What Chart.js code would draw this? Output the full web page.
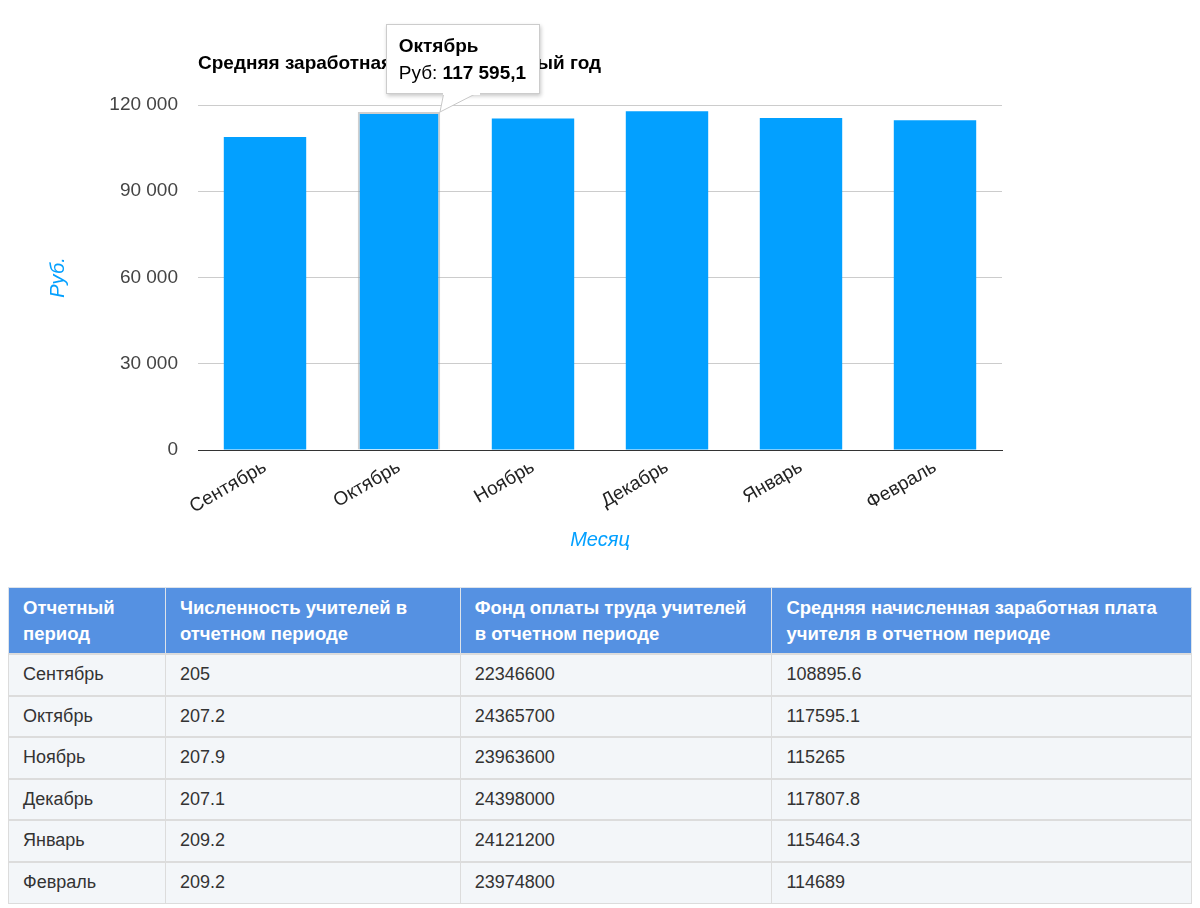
<!DOCTYPE html>
<html lang="ru">
<head>
<meta charset="utf-8">
<script src="https://cdn.jsdelivr.net/npm/chart.js@4.4.1/dist/chart.umd.min.js"></script>
<style>
  html, body { margin: 0; padding: 0; background: #fff; font-family: "Liberation Sans", Arial, Helvetica, sans-serif; }
  #wrap { position: relative; width: 1200px; height: 565px; }
  #tip { position: absolute; display: none; background: #fff; border: 1px solid #cccccc;
         box-shadow: 1px 2px 4px rgba(0,0,0,0.22); padding: 7px 13px 7px 12px; font-size: 19px; color: #000; line-height: 27px; white-space: nowrap; }
  #tip .t { font-weight: bold; }
  #tipTail { position: absolute; display: none; pointer-events: none; }
  table { position: absolute; left: 8px; top: 587px; width: 1184px; border-collapse: collapse; font-size: 18px; color: #333; }
  th { background: #5591e2; color: #fff; font-weight: bold; font-size: 18.5px; text-align: left; vertical-align: top; padding: 7px 14px 6px 14px; line-height: 26px; border: 1px solid #dde3ea; height: 52px; }
  td { background: #f3f6f9; padding: 0 14px; border: 1px solid #dcdcdc; border-top: 2px solid #dcdcdc; }
  tr.r { height: 41.5px; }
</style>
</head>
<body>
<div id="wrap">
  <canvas id="c"></canvas>
  <svg id="tipTail" width="60" height="40"></svg>
  <div id="tip"></div>
</div>
<table id="tbl"></table>
<script>
const chartTitle = "Средняя заработная плата за учебный год";
const months = ["Сентябрь", "Октябрь", "Ноябрь", "Декабрь", "Январь", "Февраль"];
const avgSalary = [108895.6, 117595.1, 115265, 117807.8, 115464.3, 114689];
const teachers = ["205", "207.2", "207.9", "207.1", "209.2", "209.2"];
const payFund = ["22346600", "24365700", "23963600", "24398000", "24121200", "23974800"];
const salaryText = ["108895.6", "117595.1", "115265", "117807.8", "115464.3", "114689"];
const tableHeaders = ["Отчетный<br>период", "Численность учителей в<br>отчетном периоде", "Фонд оплаты труда учителей<br>в отчетном периоде", "Средняя начисленная заработная плата<br>учителя в отчетном периоде"];
const seriesLabel = "Руб";
const yTitle = "Руб.";
const xTitle = "Месяц";
const activeIndex = 1;

// table
const tbl = document.getElementById('tbl');
let html = '<tr>' + tableHeaders.map((h, i) => {
  const w = [157, 295, 312, 420][i];
  return '<th style="width:' + (w - 29) + 'px">' + h + '</th>';
}).join('') + '</tr>';
months.forEach((m, i) => {
  html += '<tr class="r"><td>' + m + '</td><td>' + teachers[i] + '</td><td>' + payFund[i] + '</td><td>' + salaryText[i] + '</td></tr>';
});
tbl.innerHTML = html;

const blue = '#03a0ff';
const fam = '"Liberation Sans", Arial, sans-serif';
const fmt = (v, d) => new Intl.NumberFormat('ru-RU', { maximumFractionDigits: d }).format(v);

function externalTip(context) {
  const tt = context.tooltip;
  const tip = document.getElementById('tip');
  const tail = document.getElementById('tipTail');
  if (tt.opacity === 0 || !tt.dataPoints || !tt.dataPoints.length) { tip.style.display = 'none'; tail.style.display = 'none'; return; }
  const dp = tt.dataPoints[0];
  const el = dp.element;
  tip.innerHTML = '<div class="t">' + dp.label + '</div><div>' + seriesLabel + ': <b>' + fmt(dp.raw, 1) + '</b></div>';
  tip.style.display = 'block';
  const tipX = el.x + el.width / 2;
  const tipY = el.y;
  const boxLeft = el.x - el.width / 2 + 28;
  const boxH = tip.offsetHeight;
  const boxTop = tipY - 18 - boxH;
  tip.style.left = boxLeft + 'px';
  tip.style.top = boxTop + 'px';
  tail.style.display = 'block';
  tail.style.left = (tipX - 5) + 'px';
  tail.style.top = (boxTop + boxH - 2) + 'px';
  const h = tipY - (boxTop + boxH - 2);
  tail.setAttribute('height', h + 2);
  tail.innerHTML = '<polygon points="9,0 44,0 5,' + h + '" fill="#fff" stroke="#c8c8c8" stroke-width="1"/>' +
                   '<rect x="8" y="0" width="37" height="3" fill="#fff"/>';
  tail.style.zIndex = 3; tip.style.zIndex = 2;
}

const chart = new Chart(document.getElementById('c'), {
  type: 'bar',
  data: {
    labels: months,
    datasets: [{
      label: seriesLabel,
      data: avgSalary,
      backgroundColor: blue,
      hoverBackgroundColor: blue,
      borderWidth: 0,
      hoverBorderWidth: 2,
      hoverBorderColor: 'rgba(160,160,160,0.5)',
      categoryPercentage: 1,
      barPercentage: 0.615
    }]
  },
  options: {
    responsive: true,
    maintainAspectRatio: false,
    animation: false,
    events: [],
    layout: { padding: { top: 52.6, left: 20, right: 198, bottom: 13 } },
    plugins: {
      legend: { display: false },
      title: {
        display: true, text: chartTitle, align: 'start', fullSize: false,
        color: '#000', font: { size: 19, weight: 'bold', family: fam },
        padding: { top: 0, bottom: 29.6 }
      },
      tooltip: { enabled: false, external: externalTip }
    },
    scales: {
      y: {
        min: 0, max: 120000,
        afterFit: s => { s.width = 178; },
        ticks: { stepSize: 30000, padding: 20, color: '#444', font: { size: 19, family: fam }, callback: v => fmt(v, 0) },
        grid: { drawTicks: false, color: ctx => (ctx.tick && ctx.tick.value === 0) ? '#333' : '#cccccc', lineWidth: 1 },
        border: { display: false },
        title: { display: true, text: yTitle, color: blue, font: { size: 20, style: 'italic', family: fam }, padding: { top: 26, bottom: 0 } }
      },
      x: {
        afterFit: s => { s.height = 102; },
        ticks: { minRotation: 30, maxRotation: 30, padding: 6, color: '#222', font: { size: 19, family: fam } },
        grid: { display: false, drawTicks: false },
        border: { display: true, color: '#333', width: 1 },
        title: { display: true, text: xTitle, color: blue, font: { size: 20, style: 'italic', family: fam }, padding: { top: 0, bottom: 0 } }
      }
    }
  }
});

chart.setActiveElements([{ datasetIndex: 0, index: activeIndex }]);
chart.tooltip.setActiveElements([{ datasetIndex: 0, index: activeIndex }], { x: 0, y: 0 });
chart.update();
</script>
</body>
</html>
